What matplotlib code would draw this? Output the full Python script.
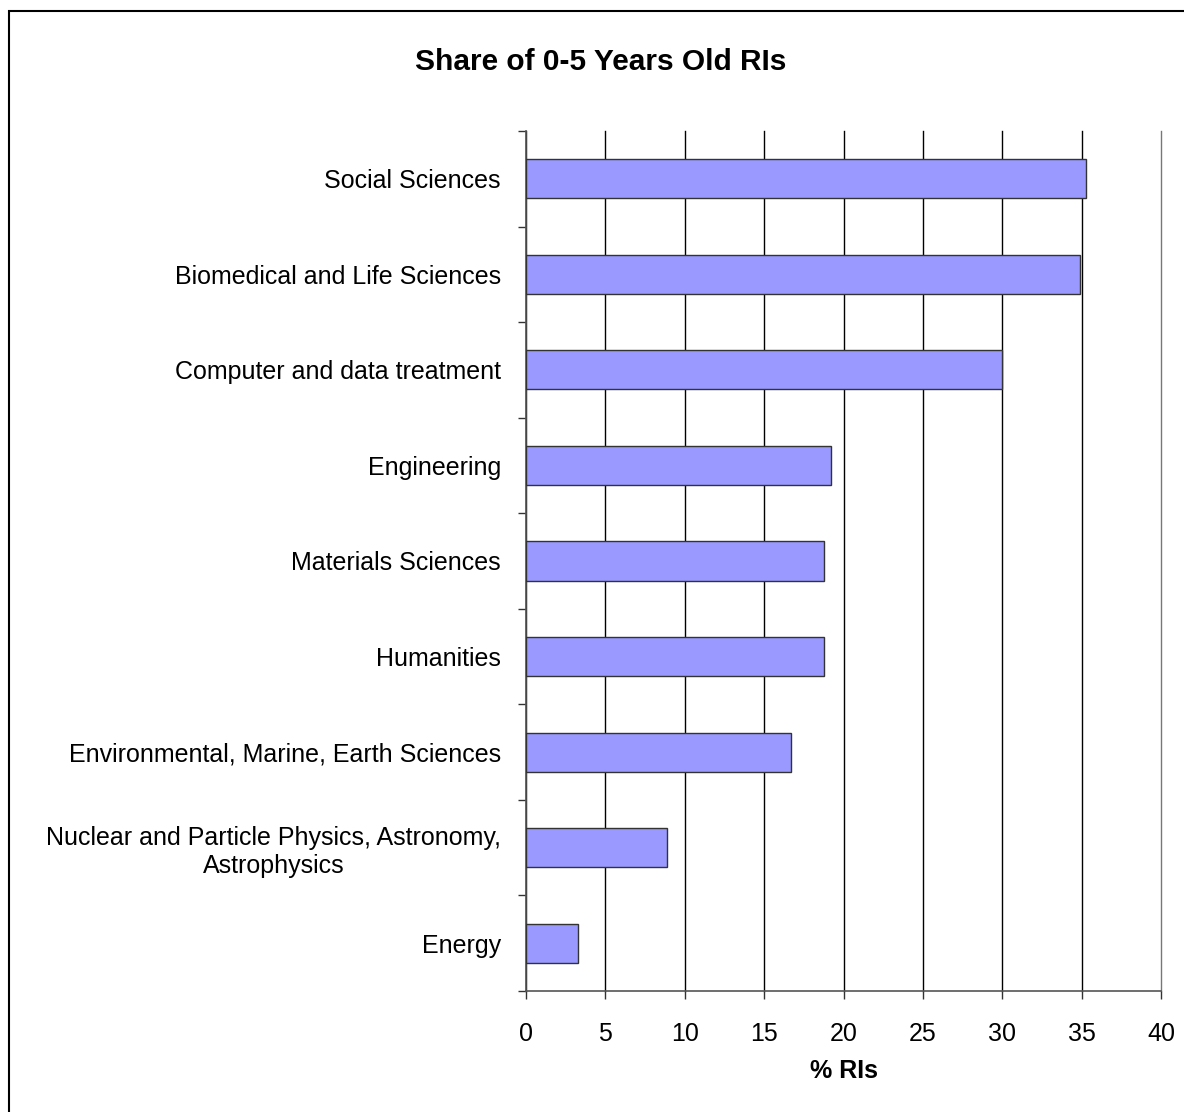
import matplotlib.pyplot as plt
import numpy as np
from matplotlib.patches import Rectangle

plt.rcParams['font.family'] = ['Liberation Sans', 'DejaVu Sans']

# top to bottom, as in the chart
categories = ['Social Sciences', 'Biomedical and Life Sciences',
              'Computer and data treatment', 'Engineering',
              'Materials Sciences', 'Humanities',
              'Environmental, Marine, Earth Sciences',
              'Nuclear and Particle Physics, Astronomy,\nAstrophysics',
              'Energy']
share = [35.3, 34.9, 30.0, 19.2, 18.8, 18.8, 16.7, 8.9, 3.3]
xticks = [0, 5, 10, 15, 20, 25, 30, 35, 40]

fig = plt.figure(figsize=(11.84, 11.12), dpi=100)
ax = fig.add_axes([526/1184, 1 - 991/1112, 635/1184, 860/1112])

n = len(categories)
ypos = np.arange(n)[::-1]
ax.barh(ypos, share, height=0.41, color='#9999FF', edgecolor='#333333',
        linewidth=1.0, zorder=3)

ax.set_xlim(0, 40)
ax.set_ylim(-0.5, n - 0.5)
ax.set_xticks(xticks)
ax.set_xticklabels([str(t) for t in xticks], fontsize=18)
ax.set_yticks(ypos)
ax.set_yticklabels(categories, fontsize=18, multialignment='center')
ax.set_yticks(np.arange(-0.5, n, 1.0), minor=True)
ax.tick_params(axis='y', which='major', length=0, pad=18)
ax.tick_params(axis='y', which='minor', length=6, width=1, direction='out',
               color='#333333')
ax.tick_params(axis='x', length=6, width=1, pad=16, color='#333333')

ax.grid(axis='x', color='black', linewidth=1.0, zorder=0)
for gl in ax.get_xgridlines():
    gl.set_clip_on(False)
ax.get_xgridlines()[-1].set_color('#777777')
ax.set_axisbelow(True)
for s in ['top', 'right']:
    ax.spines[s].set_visible(False)
ax.spines['left'].set_color('#555555')
ax.spines['bottom'].set_color('#555555')
ax.spines['left'].set_linewidth(1.2)
ax.spines['bottom'].set_linewidth(1.2)

ax.set_xlabel('% RIs', fontsize=18, fontweight='bold', labelpad=10)
fig.text(601/1184, 1 - 62/1112, 'Share of 0-5 Years Old RIs', ha='center',
         va='center', fontsize=21.5, fontweight='bold')

# outer border of the chart
fig.patches.append(Rectangle((9/1184, -0.1), 1.2, 1 - 11/1112 + 0.1,
                             transform=fig.transFigure, fill=False,
                             edgecolor='black', linewidth=1.5))

fig.savefig('out.png', dpi=100, facecolor='white')
